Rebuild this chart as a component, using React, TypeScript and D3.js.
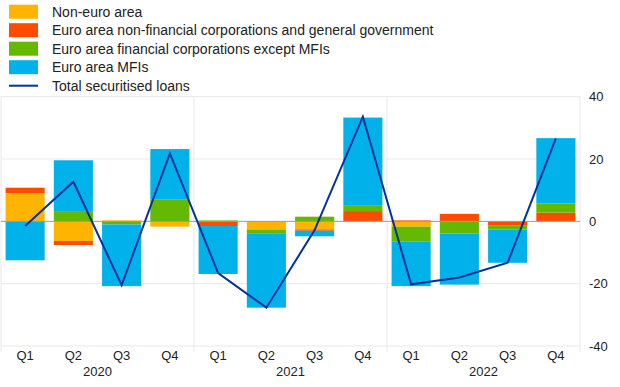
import React, { useEffect, useRef } from 'react';
import * as d3 from 'd3';

// quarterly flows, EUR billions
const years = ['2020', '2021', '2022'];
const quarters = ['Q1', 'Q2', 'Q3', 'Q4'];
const nonEuro = [9.0, -6.3, 0.3, -1.7, 0, -2.6, -2.6, 0, -1.7, 0, 0, 0];
const nfcGov = [1.8, -1.3, 0, 0, -1.5, 0, -0.4, 3.3, 0.3, 2.4, -1.4, 2.8];
const finCorp = [0, 3.3, -1.0, 7.1, 0.3, -1.4, 1.5, 1.9, -4.7, -3.9, -1.2, 2.9];
const mfis = [-12.5, 16.3, -19.8, 16.1, -15.4, -23.7, -1.8, 28.1, -14.4, -16.4, -10.7, 21.0];
const totalLoans = [-1.5, 12.7, -20.5, 21.8, -16.6, -27.7, -2.8, 33.6, -20.2, -18.0, -13.3, 26.6];
const yTicks = [40, 20, 0, -20, -40];

const seriesNames = [
  'Non-euro area',
  'Euro area non-financial corporations and general government',
  'Euro area financial corporations except MFIs',
  'Euro area MFIs',
];
const seriesValues = [nonEuro, nfcGov, finCorp, mfis];
const colors = ['#ffb400', '#ff4b00', '#65b800', '#00b1ea'];
const lineColor = '#003299';
const font = '"Liberation Sans", Arial, sans-serif';

const App = () => {
  const ref = useRef(null);

  useEffect(() => {
    const svg = d3.select(ref.current);
    svg.selectAll('*').remove();

    const left = 1, right = 580, top = 96.7, bottom = 346;
    const keys = years.flatMap(y => quarters.map(q => `${y} ${q}`));

    const x = d3.scaleBand().domain(keys).range([left, right])
      .paddingInner(0.19).paddingOuter(0.095);
    const y = d3.scaleLinear().domain([-40, 40]).range([bottom, top]);

    // grid
    svg.append('g').selectAll('line').data(yTicks.filter(d => d !== 0)).enter()
      .append('line')
      .attr('x1', left).attr('x2', right)
      .attr('y1', d => y(d)).attr('y2', d => y(d))
      .attr('stroke', '#e8e8e8').attr('stroke-width', 1);

    const step = x.step();
    svg.append('g').selectAll('line').data([0, 4, 8, 12]).enter()
      .append('line')
      .attr('x1', d => left + d * step).attr('x2', d => left + d * step)
      .attr('y1', top).attr('y2', 352)
      .attr('stroke', '#e8e8e8').attr('stroke-width', 1);

    // stacked bars
    keys.forEach((k, i) => {
      let pos = 0, neg = 0;
      seriesValues.forEach((vals, s) => {
        const v = vals[i];
        if (!v) return;
        let y0, y1;
        if (v > 0) { y0 = pos; y1 = pos + v; pos = y1; }
        else { y0 = neg + v; y1 = neg; neg = y0; }
        svg.append('rect')
          .attr('x', x(k)).attr('width', x.bandwidth())
          .attr('y', y(y1)).attr('height', y(y0) - y(y1))
          .attr('fill', colors[s]);
      });
    });

    // zero line
    svg.append('line')
      .attr('x1', left).attr('x2', right)
      .attr('y1', y(0)).attr('y2', y(0))
      .attr('stroke', '#9a9a9a').attr('stroke-width', 1);

    // total line
    const line = d3.line().x((d, i) => x(keys[i]) + x.bandwidth() / 2).y(d => y(d));
    svg.append('path')
      .attr('d', line(totalLoans))
      .attr('fill', 'none')
      .attr('stroke', lineColor)
      .attr('stroke-width', 2);

    // right axis labels
    svg.append('g').selectAll('text').data(yTicks).enter()
      .append('text')
      .attr('x', 589).attr('y', d => y(d))
      .attr('dy', '0.35em')
      .attr('font-family', font).attr('font-size', 13)
      .attr('fill', '#222')
      .text(d => String(d));

    // x labels
    svg.append('g').selectAll('text').data(keys).enter()
      .append('text')
      .attr('x', d => x(d) + x.bandwidth() / 2).attr('y', 360)
      .attr('text-anchor', 'middle')
      .attr('font-family', font).attr('font-size', 13)
      .attr('fill', '#222')
      .text(d => d.split(' ')[1]);

    svg.append('g').selectAll('text').data(years).enter()
      .append('text')
      .attr('x', (d, i) => left + (i * 4 + 2) * step).attr('y', 376)
      .attr('text-anchor', 'middle')
      .attr('font-family', font).attr('font-size', 13)
      .attr('fill', '#222')
      .text(d => d);

    // legend
    const lg = svg.append('g');
    seriesNames.concat(['Total securitised loans']).forEach((name, i) => {
      const cy = 11.7 + i * 18.5;
      if (i < 4) {
        lg.append('rect').attr('x', 9).attr('y', cy - 7).attr('width', 29).attr('height', 14)
          .attr('fill', colors[i]);
      } else {
        lg.append('line').attr('x1', 9).attr('x2', 38).attr('y1', cy).attr('y2', cy)
          .attr('stroke', lineColor).attr('stroke-width', 2);
      }
      lg.append('text').attr('x', 52).attr('y', cy).attr('dy', '0.35em')
        .attr('font-family', font).attr('font-size', 14).attr('fill', '#222')
        .text(name);
    });
  }, []);

  return (
    <svg ref={ref} width={620} height={387}
      style={{ position: 'absolute', left: 0, top: 0, background: '#fff' }} />
  );
};

export default App;
